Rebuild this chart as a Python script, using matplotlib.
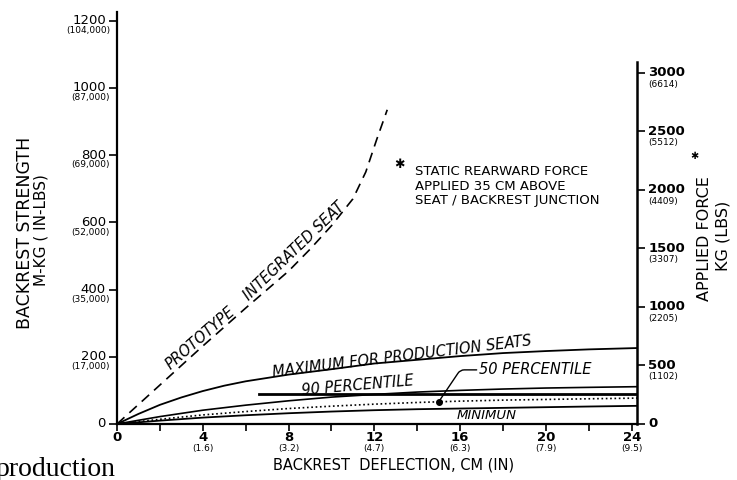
import matplotlib
matplotlib.use('Agg')
import matplotlib.pyplot as plt

# deflection (cm) vs backrest strength (m-kg)
x_proto = [0, 2, 4, 6, 7, 8, 9, 10, 11, 11.6, 12.1, 12.6]
y_proto = [0, 116, 232, 345, 400, 455, 520, 590, 670, 750, 845, 935]

x_prod = [0, 1, 2, 3, 4, 5, 6, 8, 10, 12, 14, 16, 18, 20, 22, 24.25]
y_max = [0, 30, 57, 79, 98, 114, 127, 147, 163, 180, 191, 202, 211, 217, 222, 226]

x_pct = [0, 2, 4, 6, 8, 10, 12, 14, 16, 18, 20, 22, 24.25]
y_p90 = [0, 22, 41, 56, 69, 80, 88, 95, 100, 104, 107, 109, 111]
y_p50 = [0, 14, 27, 37, 46, 53, 59, 64, 68, 71, 73, 75, 77]
y_min = [0, 10, 19, 26, 32, 37, 41, 44, 46, 48, 50, 52, 54]

x_bar = [6.6, 24.25]
y_bar = [90, 90]
p50_point = (15.0, 66)

left_ticks = [0, 200, 400, 600, 800, 1000, 1200]
left_lbs = ['', '(17,000)', '(35,000)', '(52,000)', '(69,000)', '(87,000)', '(104,000)']
right_ticks = [0, 500, 1000, 1500, 2000, 2500, 3000]
right_lbs = ['', '(1102)', '(2205)', '(3307)', '(4409)', '(5512)', '(6614)']
x_ticks = [0, 4, 8, 12, 16, 20, 24]
x_in = ['', '(1.6)', '(3.2)', '(4.7)', '(6.3)', '(7.9)', '(9.5)']

fig = plt.figure(figsize=(7.37, 4.8), dpi=100)
ax = fig.add_axes([0.1588, 0.1167, 0.7056, 0.8583])
ax2 = ax.twinx()

ax.set_xlim(0, 24.25)
ax.set_ylim(0, 1226)
ax2.set_ylim(0, 3521)

ax.plot(x_proto, y_proto, color='black', lw=1.2, dashes=[6, 4])
ax.plot(x_prod, y_max, color='black', lw=1.3)
ax.plot(x_pct, y_p90, color='black', lw=1.2)
ax.plot(x_pct, y_p50, color='black', lw=1.2, linestyle=(0, (1, 1.6)))
ax.plot(x_pct, y_min, color='black', lw=1.3)
ax.plot(x_bar, y_bar, color='black', lw=2)
ax.plot(*p50_point, 'o', color='black', ms=4)

for sp in ['top', 'right']:
    ax.spines[sp].set_visible(False)
for sp in ['top', 'left', 'bottom']:
    ax2.spines[sp].set_visible(False)
ax.spines['left'].set_linewidth(1.6)
ax.spines['bottom'].set_linewidth(1.6)
ax2.spines['right'].set_linewidth(1.8)
ax2.spines['right'].set_bounds(0, 3090)

ax.set_yticks(left_ticks)
ax.set_yticklabels([])
ax2.set_yticks(right_ticks)
ax2.set_yticklabels([])
ax.set_xticks(range(0, 25, 2))
ax.set_xticklabels([])
ax.tick_params(axis='y', direction='out', length=6, width=1.2)
ax2.tick_params(axis='y', direction='out', length=6, width=1.2)
ax.tick_params(axis='x', direction='out', length=5, width=1.2)

for v, lb in zip(left_ticks, left_lbs):
    ax.annotate(str(v), (0, v), xytext=(-8, 0), textcoords='offset points',
                ha='right', va='center', fontsize=9.5)
    if lb:
        ax.annotate(lb, (0, v), xytext=(-5, -7), textcoords='offset points',
                    ha='right', va='center', fontsize=6.5)

for v, lb in zip(right_ticks, right_lbs):
    ax2.annotate(str(v), (1, v), xycoords=('axes fraction', 'data'), xytext=(8, 0),
                 textcoords='offset points', ha='left', va='center', fontsize=9.5,
                 fontweight='bold')
    if lb:
        ax2.annotate(lb, (1, v), xycoords=('axes fraction', 'data'), xytext=(8, -8),
                     textcoords='offset points', ha='left', va='center', fontsize=6.5)

for v, lb in zip(x_ticks, x_in):
    ax.annotate(str(v), (v, 0), xycoords=('data', 'axes fraction'), xytext=(0, -5),
                textcoords='offset points', ha='center', va='top', fontsize=9.5,
                fontweight='bold')
    if lb:
        ax.annotate(lb, (v, 0), xycoords=('data', 'axes fraction'), xytext=(0, -18),
                    textcoords='offset points', ha='center', va='center', fontsize=6.5)

# curve labels
lab = dict(fontsize=10.5, style='italic', ha='center', va='center')
ax.text(3.87, 256, 'PROTOTYPE', rotation=41, **lab)
ax.text(8.25, 515, 'INTEGRATED SEAT', rotation=44, **lab)
ax.text(13.3, 200, 'MAXIMUM FOR PRODUCTION SEATS', rotation=7, **lab)
ax.text(11.2, 113, '90 PERCENTILE', rotation=5, **lab)
ax.text(17.25, 24, 'MINIMUN', rotation=0, fontsize=9.5, style='italic',
        ha='center', va='center')
ax.annotate('50 PERCENTILE', p50_point, xytext=(16.9, 161), fontsize=10.5,
            style='italic', ha='left', va='center',
            arrowprops=dict(arrowstyle='-', color='black', lw=1,
                            relpos=(0, 0.5), shrinkA=0, shrinkB=0,
                            connectionstyle='angle,angleA=0,angleB=56,rad=4'))

ax.text(13.15, 771, '\u2731', fontsize=9, ha='center', va='center')
ax.text(13.9, 770, 'STATIC REARWARD FORCE\nAPPLIED 35 CM ABOVE\nSEAT / BACKREST JUNCTION',
        fontsize=9.5, ha='left', va='top', linespacing=1.14)

fig.text(0.034, 0.515, 'BACKREST STRENGTH', rotation=90, ha='center', va='center',
         fontsize=12.5)
fig.text(0.055, 0.521, 'M-KG ( IN-LBS)', rotation=90, ha='center', va='center',
         fontsize=11)
fig.text(0.9565, 0.504, 'APPLIED FORCE', rotation=90, ha='center', va='center',
         fontsize=11.5)
fig.text(0.9810, 0.508, 'KG (LBS)', rotation=90, ha='center', va='center',
         fontsize=11.5)
fig.text(0.9417, 0.675, '\u2731', fontsize=7, ha='center', va='center')
fig.text(0.5346, 0.031, 'BACKREST  DEFLECTION, CM (IN)', ha='center', va='center',
         fontsize=10.5)
fig.text(-0.006, 0.008, 'production', family='Liberation Serif', fontsize=20,
         ha='left', va='baseline')

fig.savefig('out.png', dpi=100)
